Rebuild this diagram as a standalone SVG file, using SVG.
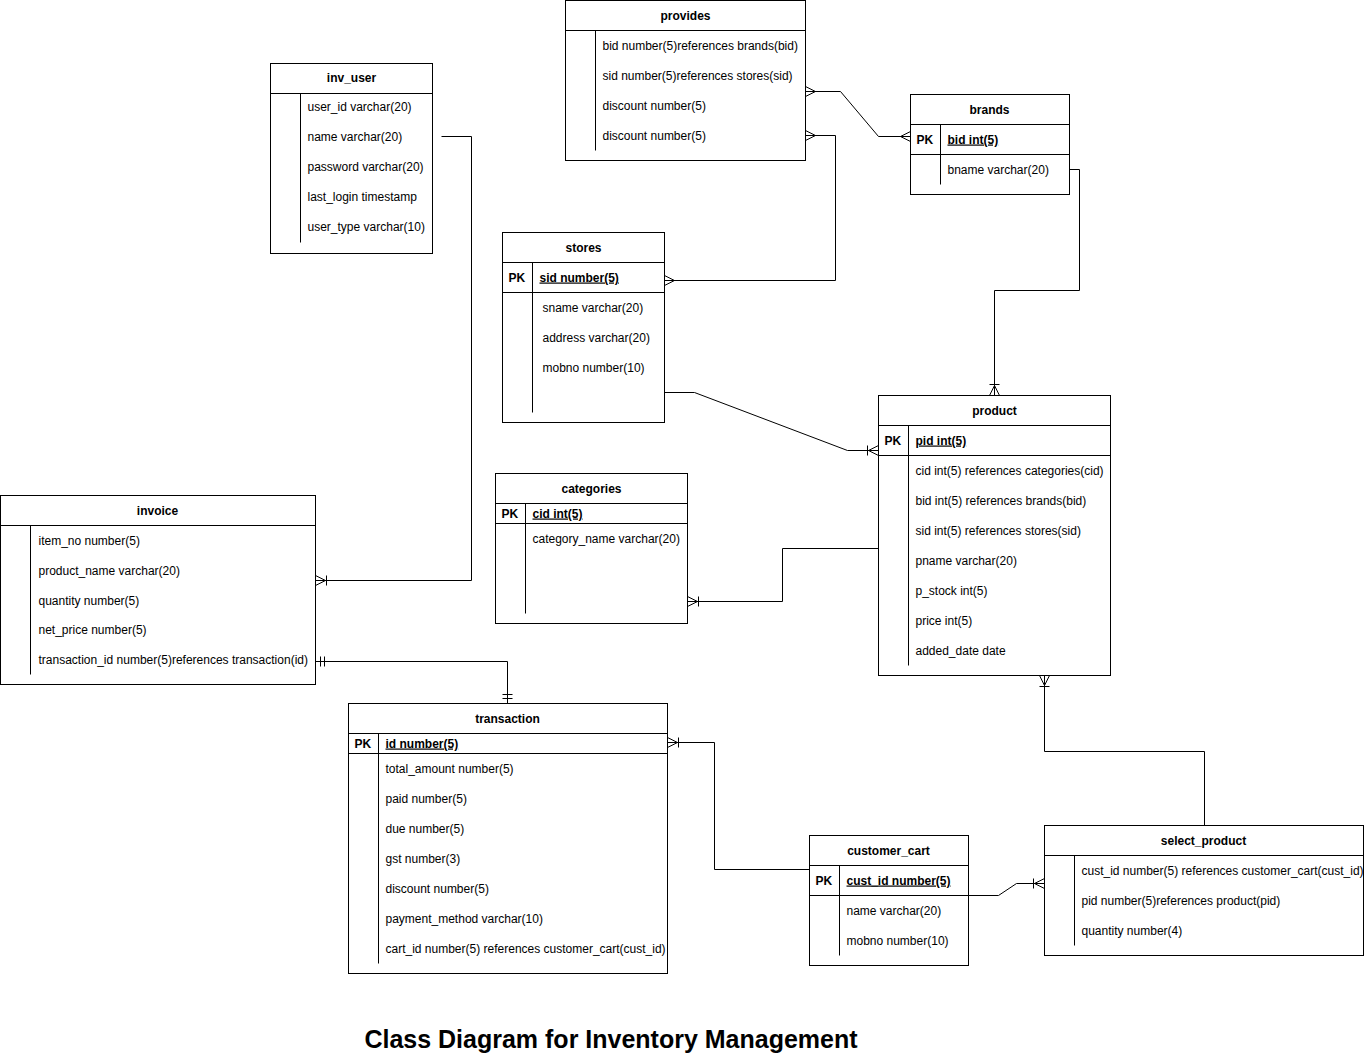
<svg xmlns="http://www.w3.org/2000/svg" width="1364" height="1059" viewBox="0 0 1364 1059">
<style>
text{font-family:"Liberation Sans",Arial,Helvetica,sans-serif;font-size:12px;fill:#000}
.t{font-weight:bold;text-anchor:middle}
.pk{font-weight:bold}
.pkf{font-weight:bold;text-decoration:underline}
.box{fill:#fff;stroke:#000;stroke-width:1}
.ln{stroke:#000;stroke-width:1;fill:none}
.c{stroke:#000;stroke-width:1;fill:none}
.big{font-size:25px;font-weight:bold;text-anchor:middle}
</style>
<defs>
<marker id="many" markerUnits="userSpaceOnUse" orient="auto-start-reverse" refX="0" refY="0" markerWidth="20" markerHeight="20" overflow="visible"><path d="M-10,0 L0,-5 M-10,0 L0,5" fill="none" stroke="#000"/></marker>
<marker id="oneMany" markerUnits="userSpaceOnUse" orient="auto-start-reverse" refX="0" refY="0" markerWidth="20" markerHeight="20" overflow="visible"><path d="M-10,0 L0,-5 M-10,0 L0,5 M-11,-5 L-11,5" fill="none" stroke="#000"/></marker>
<marker id="mandOne" markerUnits="userSpaceOnUse" orient="auto-start-reverse" refX="0" refY="0" markerWidth="20" markerHeight="20" overflow="visible"><path d="M-5,-5 L-5,5 M-9,-5 L-9,5" fill="none" stroke="#000"/></marker>
</defs>
<rect width="1364" height="1059" fill="#fff"/>
<g transform="translate(0.5,0.5)">
<g id="connectors">
<path class="c" d="M805,91 L840,91 L878,136 L910,136" marker-start="url(#many)" marker-end="url(#many)"/>
<path class="c" d="M805,135 L835,135 L835,280 L664,280" marker-start="url(#many)" marker-end="url(#many)"/>
<path class="c" d="M664,392 L694,392 L847,450 L878,450" marker-end="url(#oneMany)"/>
<path class="c" d="M1069,169 L1079,169 L1079,290 L994,290 L994,395" marker-end="url(#oneMany)"/>
<path class="c" d="M878,548 L782,548 L782,601 L687,601" marker-end="url(#oneMany)"/>
<path class="c" d="M441,136 L471,136 L471,580 L315,580" marker-end="url(#oneMany)"/>
<path class="c" d="M315,661 L507,661 L507,703" marker-start="url(#mandOne)" marker-end="url(#mandOne)"/>
<path class="c" d="M809,869 L714,869 L714,742 L667,742" marker-end="url(#oneMany)"/>
<path class="c" d="M968,895 L998,895 L1016,883 L1044,883" marker-end="url(#oneMany)"/>
<path class="c" d="M1204,825 L1204,751 L1044,751 L1044,675" marker-end="url(#oneMany)"/>
</g>
<g id="provides">
<rect class="box" x="565" y="0" width="240" height="160"/>
<line class="ln" x1="565" y1="30" x2="805" y2="30"/>
<line class="ln" x1="595" y1="30" x2="595" y2="150"/>
<text class="t" x="685" y="19">provides</text>
<text x="602" y="49">bid number(5)references brands(bid)</text>
<text x="602" y="79">sid number(5)references stores(sid)</text>
<text x="602" y="109">discount number(5)</text>
<text x="602" y="139">discount number(5)</text>
</g>
<g id="inv_user">
<rect class="box" x="270" y="63" width="162" height="190"/>
<line class="ln" x1="270" y1="93" x2="432" y2="93"/>
<line class="ln" x1="300" y1="93" x2="300" y2="242"/>
<text class="t" x="351" y="81">inv_user</text>
<text x="307" y="110">user_id varchar(20)</text>
<text x="307" y="140">name varchar(20)</text>
<text x="307" y="170">password varchar(20)</text>
<text x="307" y="200">last_login timestamp</text>
<text x="307" y="230">user_type varchar(10)</text>
</g>
<g id="brands">
<rect class="box" x="910" y="94" width="159" height="100"/>
<line class="ln" x1="910" y1="124" x2="1069" y2="124"/>
<line class="ln" x1="910" y1="154" x2="1069" y2="154"/>
<line class="ln" x1="940" y1="124" x2="940" y2="184"/>
<text class="t" x="989" y="113">brands</text>
<text class="pk" x="916" y="143">PK</text>
<text class="pkf" x="947" y="143">bid int(5)</text>
<text x="947" y="173">bname varchar(20)</text>
</g>
<g id="stores">
<rect class="box" x="502" y="232" width="162" height="190"/>
<line class="ln" x1="502" y1="262" x2="664" y2="262"/>
<line class="ln" x1="502" y1="292" x2="664" y2="292"/>
<line class="ln" x1="532" y1="262" x2="532" y2="412"/>
<text class="t" x="583" y="251">stores</text>
<text class="pk" x="508" y="281">PK</text>
<text class="pkf" x="539" y="281">sid number(5)</text>
<text x="542" y="311">sname varchar(20)</text>
<text x="542" y="341">address varchar(20)</text>
<text x="542" y="371">mobno number(10)</text>
</g>
<g id="product">
<rect class="box" x="878" y="395" width="232" height="280"/>
<line class="ln" x1="878" y1="425" x2="1110" y2="425"/>
<line class="ln" x1="878" y1="455" x2="1110" y2="455"/>
<line class="ln" x1="908" y1="425" x2="908" y2="665"/>
<text class="t" x="994" y="414">product</text>
<text class="pk" x="884" y="444">PK</text>
<text class="pkf" x="915" y="444">pid int(5)</text>
<text x="915" y="474">cid int(5) references categories(cid)</text>
<text x="915" y="504">bid int(5) references brands(bid)</text>
<text x="915" y="534">sid int(5) references stores(sid)</text>
<text x="915" y="564">pname varchar(20)</text>
<text x="915" y="594">p_stock int(5)</text>
<text x="915" y="624">price int(5)</text>
<text x="915" y="654">added_date date</text>
</g>
<g id="categories">
<rect class="box" x="495" y="473" width="192" height="150"/>
<line class="ln" x1="495" y1="503" x2="687" y2="503"/>
<line class="ln" x1="495" y1="523" x2="687" y2="523"/>
<line class="ln" x1="525" y1="503" x2="525" y2="613"/>
<text class="t" x="591" y="492">categories</text>
<text class="pk" x="501" y="517">PK</text>
<text class="pkf" x="532" y="517">cid int(5)</text>
<text x="532" y="542">category_name varchar(20)</text>
</g>
<g id="invoice">
<rect class="box" x="0" y="495" width="315" height="189"/>
<line class="ln" x1="0" y1="525" x2="315" y2="525"/>
<line class="ln" x1="30" y1="525" x2="30" y2="674"/>
<text class="t" x="157" y="514">invoice</text>
<text x="38" y="544">item_no number(5)</text>
<text x="38" y="574">product_name varchar(20)</text>
<text x="38" y="604">quantity number(5)</text>
<text x="38" y="633">net_price number(5)</text>
<text x="38" y="663">transaction_id number(5)references transaction(id)</text>
</g>
<g id="transaction">
<rect class="box" x="348" y="703" width="319" height="270"/>
<line class="ln" x1="348" y1="733" x2="667" y2="733"/>
<line class="ln" x1="348" y1="753" x2="667" y2="753"/>
<line class="ln" x1="378" y1="733" x2="378" y2="963"/>
<text class="t" x="507" y="722">transaction</text>
<text class="pk" x="354" y="747">PK</text>
<text class="pkf" x="385" y="747">id number(5)</text>
<text x="385" y="772">total_amount number(5)</text>
<text x="385" y="802">paid number(5)</text>
<text x="385" y="832">due number(5)</text>
<text x="385" y="862">gst number(3)</text>
<text x="385" y="892">discount number(5)</text>
<text x="385" y="922">payment_method varchar(10)</text>
<text x="385" y="952">cart_id number(5) references customer_cart(cust_id)</text>
</g>
<g id="customer_cart">
<rect class="box" x="809" y="835" width="159" height="130"/>
<line class="ln" x1="809" y1="865" x2="968" y2="865"/>
<line class="ln" x1="809" y1="895" x2="968" y2="895"/>
<line class="ln" x1="839" y1="865" x2="839" y2="955"/>
<text class="t" x="888" y="854">customer_cart</text>
<text class="pk" x="815" y="884">PK</text>
<text class="pkf" x="846" y="884">cust_id number(5)</text>
<text x="846" y="914">name varchar(20)</text>
<text x="846" y="944">mobno number(10)</text>
</g>
<g id="select_product">
<rect class="box" x="1044" y="825" width="319" height="130"/>
<line class="ln" x1="1044" y1="855" x2="1363" y2="855"/>
<line class="ln" x1="1074" y1="855" x2="1074" y2="945"/>
<text class="t" x="1203" y="844">select_product</text>
<text x="1081" y="874">cust_id number(5) references customer_cart(cust_id)</text>
<text x="1081" y="904">pid number(5)references product(pid)</text>
<text x="1081" y="934">quantity number(4)</text>
</g>
</g>
<text class="big" x="611" y="1048">Class Diagram for Inventory Management</text>
</svg>
